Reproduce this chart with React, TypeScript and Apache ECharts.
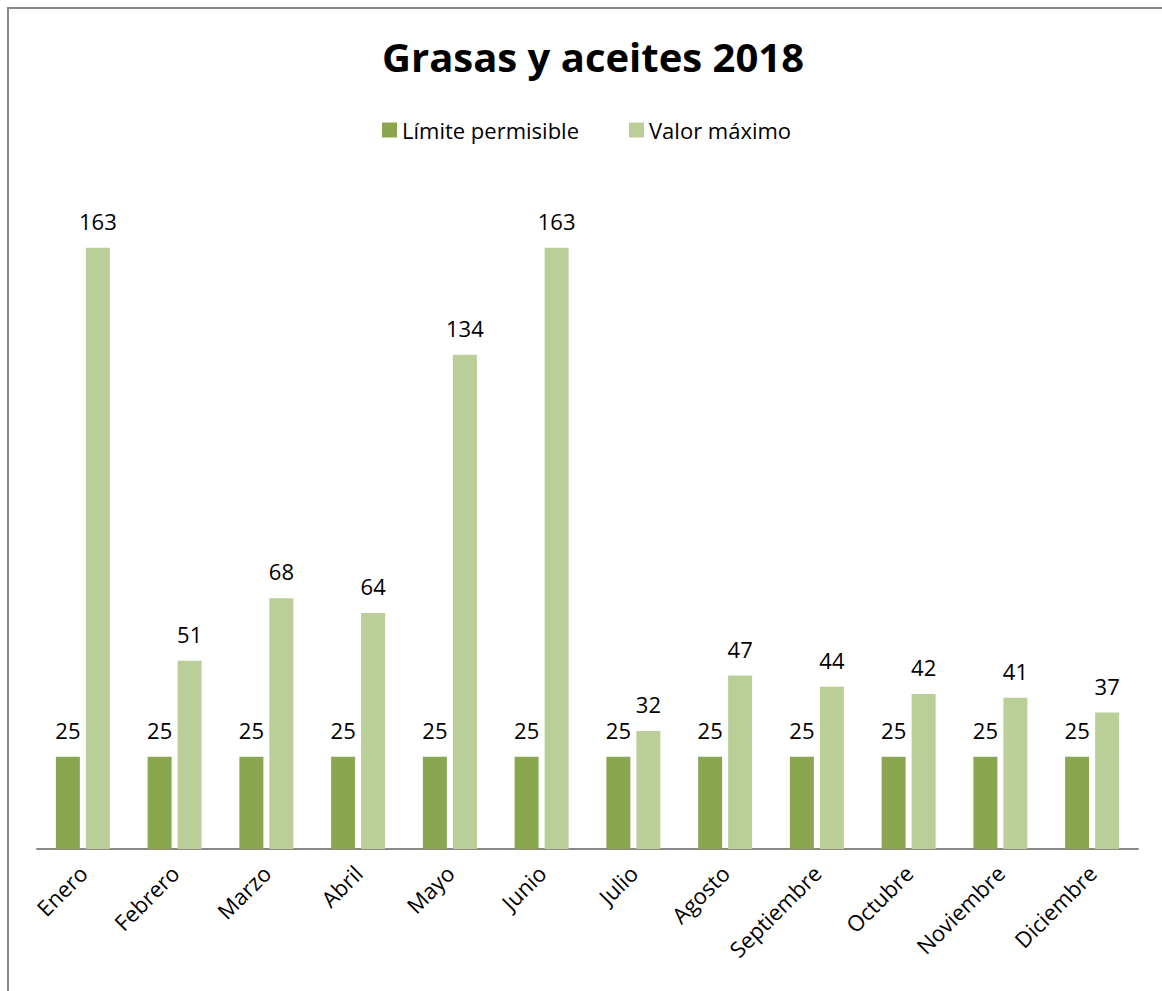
import React, { useEffect, useRef } from "react";
import * as echarts from "echarts";

const months = ["Enero", "Febrero", "Marzo", "Abril", "Mayo", "Junio", "Julio", "Agosto", "Septiembre", "Octubre", "Noviembre", "Diciembre"];
const limitePermisible = [25, 25, 25, 25, 25, 25, 25, 25, 25, 25, 25, 25];
const valorMaximo = [163, 51, 68, 64, 134, 163, 32, 47, 44, 42, 41, 37];
const seriesNames = ["Límite permisible", "Valor máximo"];
const titleText = "Grasas y aceites 2018";

const FONT = "'Open Sans', 'Noto Sans', sans-serif";

export default function App() {
  const ref = useRef<HTMLDivElement>(null);
  useEffect(() => {
    if (!ref.current) return;
    const chart = echarts.init(ref.current, undefined, { renderer: "svg" });
    const label = {
      show: true,
      position: "top",
      distance: 16,
      color: "#000",
      fontSize: 22,
      fontFamily: FONT,
    };
    chart.setOption({
      animation: false,
      backgroundColor: "#fff",
      title: {
        text: titleText,
        left: 377,
        top: 31,
        textStyle: { fontSize: 40, fontWeight: "bold", color: "#000", fontFamily: FONT },
      },
      legend: {
        top: 114,
        left: 377,
        itemWidth: 15,
        itemHeight: 15,
        itemGap: 50,
        icon: "rect",
        textStyle: { fontSize: 22, color: "#000", fontFamily: FONT },
        data: seriesNames,
      },
      grid: { left: 37, right: 24, top: 185, bottom: 142, containLabel: false },
      xAxis: {
        type: "category",
        data: months,
        axisLine: { lineStyle: { color: "#898989", width: 2 } },
        axisTick: { show: false },
        axisLabel: { rotate: 45, margin: 20, fontSize: 22, color: "#000", fontFamily: FONT, interval: 0 },
      },
      yAxis: {
        type: "value",
        min: 0,
        max: 180,
        show: false,
        splitLine: { show: false },
      },
      graphic: [
        {
          type: "rect",
          shape: { x: 8, y: 8, width: 1300, height: 1200 },
          style: { fill: "none", stroke: "#878787", lineWidth: 2 },
          silent: true,
        },
      ],
      series: [
        {
          name: seriesNames[0],
          type: "bar",
          data: limitePermisible,
          barWidth: 24,
          barGap: "25%",
          itemStyle: { color: "#8AA64F" },
          label,
        },
        {
          name: seriesNames[1],
          type: "bar",
          data: valorMaximo,
          barWidth: 24,
          itemStyle: { color: "#BACF98" },
          label,
        },
      ],
    });
    return () => chart.dispose();
  }, []);
  return <div ref={ref} style={{ position: "fixed", left: 0, top: 0, width: 1162, height: 991 }} />;
}
